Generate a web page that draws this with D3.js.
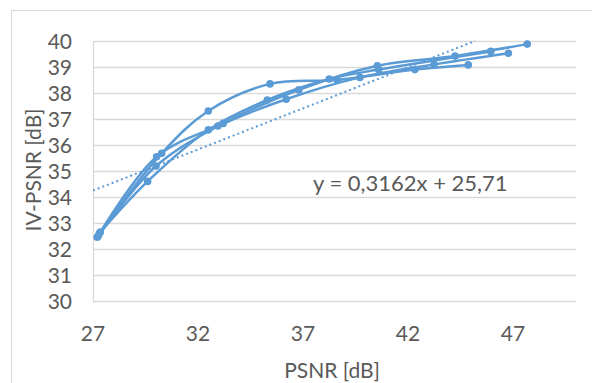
<!DOCTYPE html>
<html>
<head>
<meta charset="utf-8">
<script src="https://cdn.jsdelivr.net/npm/d3@7"></script>
<style>
  body { margin: 0; background: #fff; }
  text { font-family: Lato, "Noto Sans", sans-serif; fill: #595959; }
</style>
</head>
<body>
<script>
//data: [PSNR, IV-PSNR] pairs, one list per curve
var series1 = [[27.3, 32.6], [30.27, 35.68], [32.49, 37.31], [35.43, 38.35], [38.63, 38.5], [42.33, 38.9], [44.87, 39.08]];
var series2 = [[27.2, 32.45], [30.03, 35.55], [32.95, 36.73], [36.2, 37.76], [39.71, 38.6], [43.24, 39.1], [46.78, 39.53]];
var series3 = [[27.25, 32.5], [30.0, 35.19], [33.2, 36.83], [36.8, 38.12], [40.54, 39.05], [44.24, 39.42], [47.68, 39.88]];
var series4 = [[27.35, 32.65], [29.6, 34.6], [32.49, 36.58], [35.3, 37.73], [38.25, 38.54], [40.6, 38.9], [45.94, 39.6]];
var allSeries = [series1, series2, series3, series4];

var xTicks = [27, 32, 37, 42, 47];
var yTicks = [30, 31, 32, 33, 34, 35, 36, 37, 38, 39, 40];
var trend = {slope: 0.3162, intercept: 25.71, label: "y = 0,3162x + 25,71"};

var width = 592, height = 383;
var blue = "#5b9bd5";

var svg = d3.select("body").append("svg")
    .attr("width", width)
    .attr("height", height);

//outer chart border
svg.append("rect")
    .attr("x", 11.5).attr("y", 10.5)
    .attr("width", 620).attr("height", 420)
    .attr("fill", "none")
    .attr("stroke", "#d9d9d9");

var x = d3.scaleLinear().domain([27, 50]).range([93, 576]);
var y = d3.scaleLinear().domain([30, 40]).range([301, 41]);

//horizontal gridlines
svg.selectAll(".grid")
    .data(yTicks)
    .enter().append("line")
    .attr("class", "grid")
    .attr("x1", x(27)).attr("x2", x(50))
    .attr("y1", function(d){ return Math.round(y(d)) + 0.5; })
    .attr("y2", function(d){ return Math.round(y(d)) + 0.5; })
    .attr("stroke", "#d9d9d9")
    .attr("stroke-width", 1.3);

//left axis line
svg.append("line")
    .attr("x1", x(27) + 0.5).attr("x2", x(27) + 0.5)
    .attr("y1", y(40)).attr("y2", y(30))
    .attr("stroke", "#d9d9d9")
    .attr("stroke-width", 1.3);

//tick labels
svg.selectAll(".ylab")
    .data(yTicks)
    .enter().append("text")
    .attr("x", 72)
    .attr("y", function(d){ return y(d); })
    .attr("dy", "0.36em")
    .attr("text-anchor", "end")
    .attr("font-size", 21)
    .text(function(d){ return d; });

svg.selectAll(".xlab")
    .data(xTicks)
    .enter().append("text")
    .attr("x", function(d){ return x(d); })
    .attr("y", 341)
    .attr("text-anchor", "middle")
    .attr("font-size", 21)
    .text(function(d){ return d; });

//axis titles
svg.append("text")
    .attr("x", 332).attr("y", 378)
    .attr("text-anchor", "middle")
    .attr("font-size", 21)
    .text("PSNR [dB]");

svg.append("text")
    .attr("transform", "translate(41,170) rotate(-90)")
    .attr("text-anchor", "middle")
    .attr("font-size", 21)
    .text("IV-PSNR [dB]");

//clip for the trendline
svg.append("clipPath").attr("id", "plot")
    .append("rect")
    .attr("x", x(27)).attr("y", y(40) - 1)
    .attr("width", x(50) - x(27)).attr("height", y(30) - y(40) + 1);

//linear trendline, drawn up to where it leaves the plot
var xEnd = (40 - trend.intercept) / trend.slope;
svg.append("line")
    .attr("clip-path", "url(#plot)")
    .attr("x1", x(27)).attr("y1", y(trend.slope * 27 + trend.intercept))
    .attr("x2", x(xEnd)).attr("y2", y(40))
    .attr("stroke", blue)
    .attr("stroke-width", 2)
    .attr("stroke-dasharray", "2,3");

//smoothed curves
var line = d3.line()
    .x(function(d){ return x(d[0]); })
    .y(function(d){ return y(d[1]); })
    .curve(d3.curveCatmullRom.alpha(0.5));

allSeries.forEach(function(s){
    svg.append("path")
        .datum(s)
        .attr("d", line)
        .attr("fill", "none")
        .attr("stroke", blue)
        .attr("stroke-width", 2.5)
        .attr("stroke-linecap", "round");

    svg.selectAll(null)
        .data(s)
        .enter().append("circle")
        .attr("cx", function(d){ return x(d[0]); })
        .attr("cy", function(d){ return y(d[1]); })
        .attr("r", 3.8)
        .attr("fill", blue);
});

//trendline equation
svg.append("text")
    .attr("x", 313).attr("y", 191)
    .attr("font-size", 22)
    .text(trend.label);
</script>
</body>
</html>
